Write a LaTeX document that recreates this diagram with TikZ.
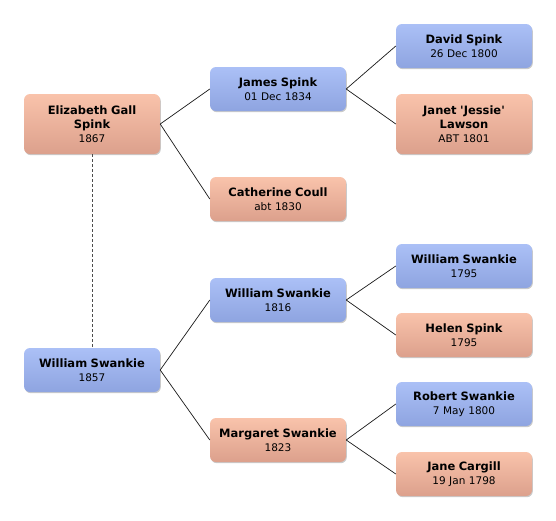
\documentclass[tikz,border=0pt]{standalone}
\usepackage{fontspec}
\setmainfont{DejaVu Sans}[Ligatures=TeXOff]
\usetikzlibrary{shadows}
\definecolor{bluetop}{HTML}{ABC0F6}
\definecolor{bluebot}{HTML}{8EA4E0}
\definecolor{pinktop}{HTML}{F9C3AB}
\definecolor{pinkbot}{HTML}{DCA08C}
\tikzset{
  person/.style={minimum width=136pt, minimum height=44pt, rounded corners=6pt,
    inner sep=2pt, align=center, text width=130pt,
    drop shadow={shadow xshift=0.8pt, shadow yshift=-1.2pt, opacity=0.35, fill=black!60},
    font=\fontsize{10.5}{14}\selectfont},
  male/.style={person, top color=bluetop, bottom color=bluebot},
  female/.style={person, top color=pinktop, bottom color=pinkbot},
  tall/.style={minimum height=60pt},
  link/.style={draw=black!90, line width=0.7pt},
  spouse/.style={draw=black!70, line width=1pt, dash pattern=on 3pt off 2pt}
}
\newcommand{\nm}[1]{{\bfseries\fontsize{11.5}{16}\selectfont #1}}
\begin{document}
\begin{tikzpicture}[x=1pt,y=-1pt]
\useasboundingbox (0,0) rectangle (556,520);
\node[female,tall] (eliz) at (92,124) {\nm{Elizabeth Gall\\Spink}\\1867};
\node[male] (james) at (278,89) {\nm{James Spink}\\01 Dec 1834};
\node[male] (david) at (464,46) {\nm{David Spink}\\26 Dec 1800};
\node[female,tall] (janet) at (464,124) {\nm{Janet 'Jessie'\\Lawson}\\ABT 1801};
\node[female] (cath) at (278,199) {\nm{Catherine Coull}\\abt 1830};
\node[male] (wsk57) at (92,370) {\nm{William Swankie}\\1857};
\node[male] (wsk16) at (278,300) {\nm{William Swankie}\\1816};
\node[male] (wsk95) at (464,266) {\nm{William Swankie}\\1795};
\node[female] (helen) at (464,335) {\nm{Helen Spink}\\1795};
\node[female] (marg) at (278,440) {\nm{Margaret Swankie}\\1823};
\node[male] (robert) at (464,404) {\nm{Robert Swankie}\\7 May 1800};
\node[female] (jane) at (464,474) {\nm{Jane Cargill}\\19 Jan 1798};
\draw[link] (eliz.east) -- (james.west);
\draw[link] (eliz.east) -- (cath.west);
\draw[link] (james.east) -- (david.west);
\draw[link] (james.east) -- (janet.west);
\draw[link] (wsk57.east) -- (wsk16.west);
\draw[link] (wsk57.east) -- (marg.west);
\draw[link] (wsk16.east) -- (wsk95.west);
\draw[link] (wsk16.east) -- (helen.west);
\draw[link] (marg.east) -- (robert.west);
\draw[link] (marg.east) -- (jane.west);
\draw[spouse] (eliz.south) -- (wsk57.north);
\end{tikzpicture}
\end{document}
